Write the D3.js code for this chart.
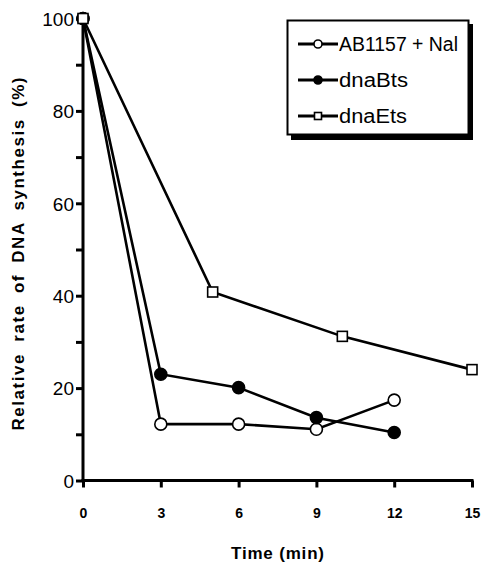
<!DOCTYPE html>
<html>
<head>
<meta charset="utf-8">
<script src="https://cdn.jsdelivr.net/npm/d3@7"></script>
<style>
body{margin:0;background:#fff}
text{font-family:"Liberation Sans",Arial,sans-serif;fill:#000}
</style>
</head>
<body>
<div id="chart"></div>
<script>
// values
var timesAB = [0, 3, 6, 9, 12]
var valuesAB = [100, 12.2, 12.2, 11.1, 17.4]
var timesB = [0, 3, 6, 9, 12]
var valuesB = [100, 23.0, 20.1, 13.6, 10.4]
var timesE = [0, 5, 10, 15]
var valuesE = [100, 40.8, 31.2, 24.0]
var xTicks = [0, 3, 6, 9, 12, 15]
var yTicks = [0, 10, 20, 30, 40, 50, 60, 70, 80, 90, 100]
var seriesNames = ["AB1157 + Nal", "dnaBts", "dnaEts"]

var width = 482, height = 562

var svg = d3.select("#chart").append("svg").attr("width", width).attr("height", height)

var x = d3.scaleLinear().domain([0, 15]).range([83, 472])
var y = d3.scaleLinear().domain([0, 100]).range([480.5, 18.5])

function pts(xs, ys){
	return xs.map(function(t, i){ return {t: t, v: ys[i]} })
}
var series = [
	{name: seriesNames[0], data: pts(timesAB, valuesAB), marker: "open"},
	{name: seriesNames[1], data: pts(timesB, valuesB), marker: "filled"},
	{name: seriesNames[2], data: pts(timesE, valuesE), marker: "square"}
]

// axes
var yAxis = svg.append("g").attr("transform", "translate(" + x(0) + ",0)")
	.call(d3.axisLeft(y).tickValues(yTicks).tickSize(7).tickFormat(function(d){ return d % 20 == 0 ? d : "" }))
yAxis.select(".domain").attr("stroke-width", 3).attr("d", "M0," + (y(0) + 1.5) + "V" + y(100))
yAxis.selectAll(".tick line").attr("stroke-width", 3)
yAxis.selectAll(".tick text").attr("font-size", 19).attr("font-family", "Liberation Sans, Arial, sans-serif").attr("x", -9).attr("dy", "0.36em")

var xAxis = svg.append("g").attr("transform", "translate(0," + y(0) + ")")
	.call(d3.axisBottom(x).tickValues(xTicks).tickSize(7))
xAxis.select(".domain").attr("stroke-width", 3).attr("d", "M" + (x(0) - 1.5) + ",0H" + (x(15) + 1.5))
xAxis.selectAll(".tick line").attr("stroke-width", 3)
xAxis.selectAll(".tick text").attr("font-size", 14).attr("font-weight", "bold")
	.attr("font-family", "Liberation Sans, Arial, sans-serif").attr("y", 0).attr("dy", 37)

// axis titles
svg.append("text").attr("x", (x(0) + x(15)) / 2).attr("y", 559).attr("text-anchor", "middle")
	.attr("font-size", 17).attr("font-weight", "bold")
	.attr("textLength", 93).attr("lengthAdjust", "spacing").text("Time  (min)")
svg.append("text").attr("transform", "translate(24,254) rotate(-90)").attr("text-anchor", "middle")
	.attr("font-size", 17).attr("font-weight", "bold").attr("word-spacing", 5)
	.attr("textLength", 353).attr("lengthAdjust", "spacing")
	.text("Relative rate of DNA synthesis (%)")

// lines
var line = d3.line().x(function(d){ return x(d.t) }).y(function(d){ return y(d.v) })
svg.selectAll(".series").data(series).enter().append("path")
	.attr("class", "series")
	.attr("d", function(d){ return line(d.data) })
	.attr("fill", "none").attr("stroke", "#000").attr("stroke-width", 2.6)

function drawMarker(g, type, cx, cy, size){
	if (type == "square"){
		g.append("rect").attr("x", cx - size).attr("y", cy - size).attr("width", size * 2).attr("height", size * 2)
			.attr("fill", "#fff").attr("stroke", "#000").attr("stroke-width", 1.6)
	}
	else{
		g.append("circle").attr("cx", cx).attr("cy", cy).attr("r", size)
			.attr("fill", type == "filled" ? "#000" : "#fff").attr("stroke", "#000").attr("stroke-width", 1.6)
	}
}

var markers = svg.append("g")
series.forEach(function(s){
	s.data.forEach(function(d){
		var size = s.marker == "square" ? 5 : 6
		drawMarker(markers, s.marker, x(d.t), y(d.v), size)
	})
})

// legend
var lg = svg.append("g")
lg.append("rect").attr("x", 291).attr("y", 24).attr("width", 182).attr("height", 116).attr("fill", "#000")
lg.append("rect").attr("x", 287.5).attr("y", 20.5).attr("width", 181).attr("height", 114)
	.attr("fill", "#fff").attr("stroke", "#000").attr("stroke-width", 2)
var rowY = [44, 80, 116]
var textW = [119, 69, 68]
series.forEach(function(s, i){
	lg.append("line").attr("x1", 298).attr("x2", 338).attr("y1", rowY[i]).attr("y2", rowY[i])
		.attr("stroke", "#000").attr("stroke-width", 3)
	drawMarker(lg, s.marker, 318, rowY[i], s.marker == "square" ? 3.5 : 4)
	lg.append("text").attr("x", 339).attr("y", rowY[i]).attr("dy", "0.36em")
		.attr("font-size", 20).attr("textLength", textW[i]).attr("lengthAdjust", "spacingAndGlyphs").text(s.name)
})
</script>
</body>
</html>
